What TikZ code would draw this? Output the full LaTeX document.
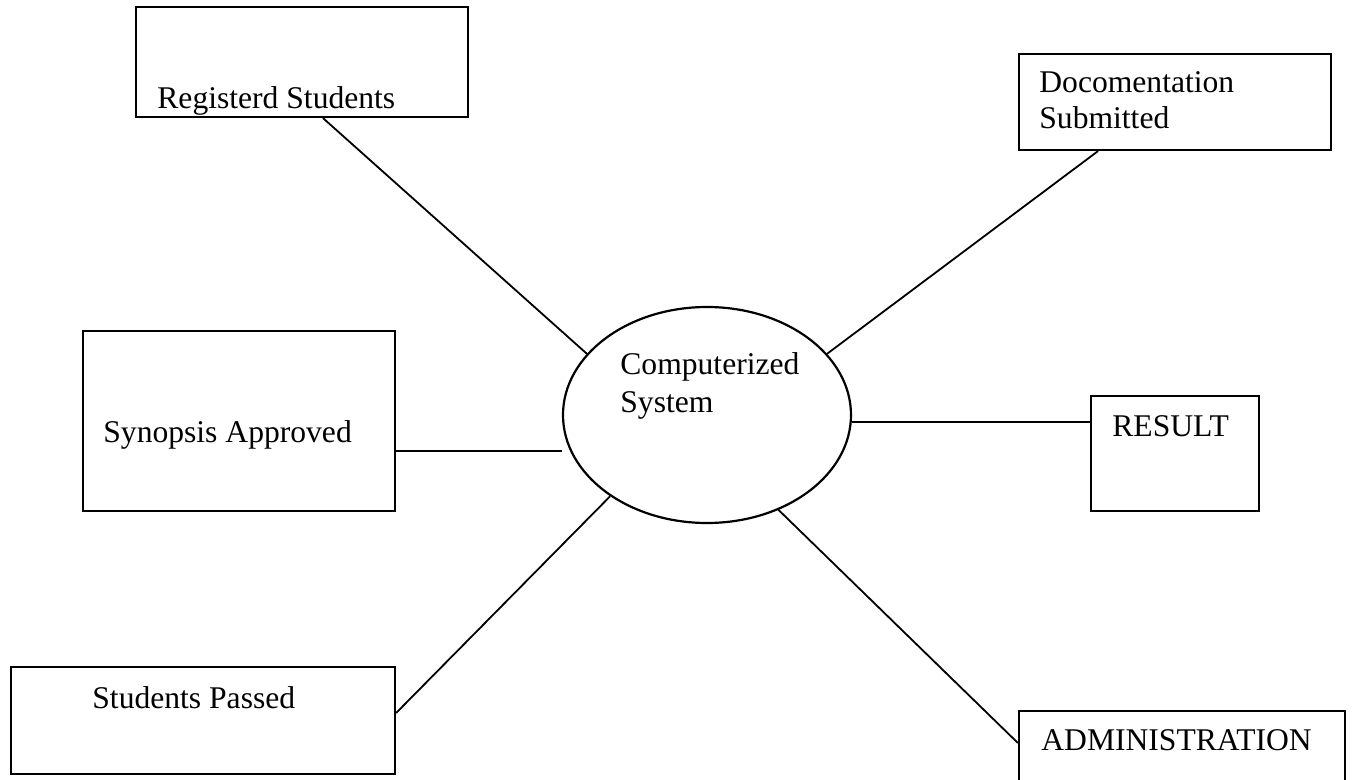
\documentclass[tikz,border=0pt]{standalone}
\usepackage{fontspec}
\setmainfont{Liberation Serif}
\usetikzlibrary{shapes.geometric}

\begin{document}
\begin{tikzpicture}[
  x=0.5pt, y=-0.5pt,
  box/.style={rectangle, draw, line width=1.1pt, inner sep=0pt},
  sysnode/.style={ellipse, draw, line width=1.1pt, inner sep=0pt,
    minimum width=144pt, minimum height=108pt},
  lbl/.style={anchor=base west, inner sep=0pt, align=left,
    font=\fontsize{15.8}{18}\selectfont},
  link/.style={draw, line width=0.9pt}
]
\useasboundingbox (0,0) rectangle (1361,780);
\clip (0,0) rectangle (1361,780);

% centre
\node[sysnode] (sys) at (707,415) {};
\node[lbl, font=\fontsize{15.8}{19}\selectfont] (systxt) at (620,413) {Computerized\\System};

% boxes
\node[box, minimum width=166pt, minimum height=55pt] (reg) at (302,62) {};
\node[lbl] (regtxt) at (157,109) {Registerd Students};
\node[box, minimum width=156pt, minimum height=48pt] (doc) at (1175,102) {};
\node[lbl] (doctxt) at (1039,129) {Docomentation\\Submitted};
\node[box, minimum width=156pt, minimum height=90pt] (syn) at (239,421) {};
\node[lbl] (syntxt) at (103,443) {Synopsis Approved};
\node[box, minimum width=84pt, minimum height=57.5pt] (res) at (1175,453.5) {};
\node[lbl] (restxt) at (1112,437) {RESULT};
\node[box, minimum width=192pt, minimum height=53.5pt] (pas) at (203,720.5) {};
\node[lbl] (pastxt) at (92,708) {Students Passed};
\node[box, minimum width=163pt, minimum height=49.5pt] (adm) at (1182,760.5) {};
\node[lbl] (admtxt) at (1041,750) {ADMINISTRATION};

% connectors
\coordinate (synr) at ([yshift=-15pt]syn.east);
\coordinate (resl) at ([yshift=15.75pt]res.west);
\draw[link] ([xshift=10.5pt]reg.south) -- (sys.153.6);
\draw[link] ([xshift=-38.5pt]doc.south) -- (sys.27.3);
\draw[link] (synr) -- (synr -| sys.west);
\draw[link] (sys.east |- resl) -- (resl);
\draw[link] ([yshift=3.75pt]pas.east) -- (sys.220.8);
\draw[link] (sys.307.7) -- ([yshift=8.75pt]adm.west);
\end{tikzpicture}
\end{document}
